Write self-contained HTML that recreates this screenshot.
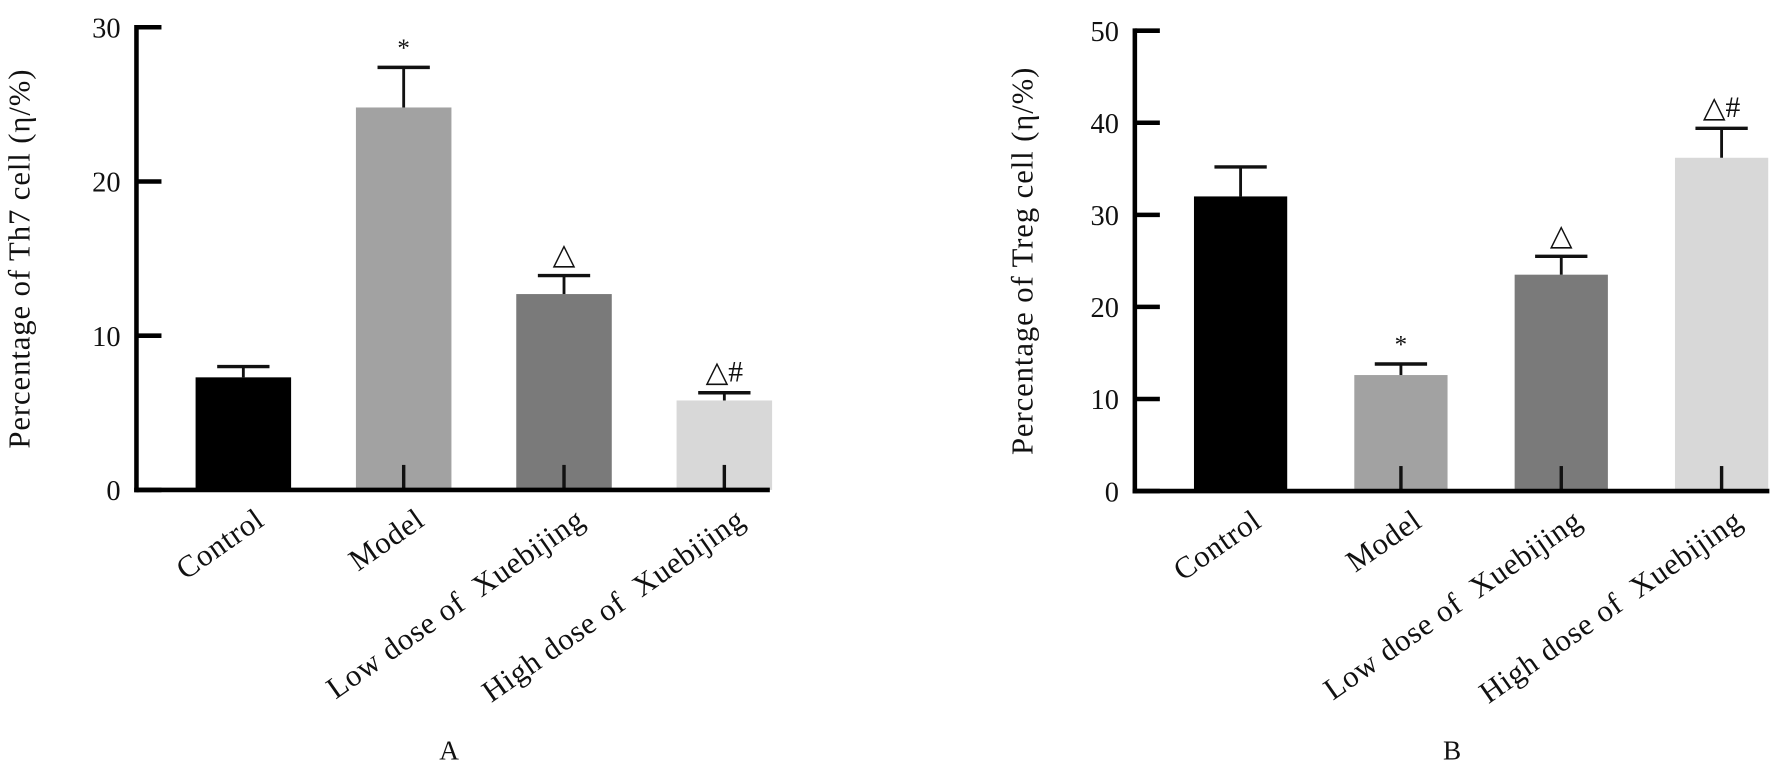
<!DOCTYPE html>
<html><head><meta charset="utf-8"><style>
html,body{margin:0;padding:0;background:#fff;width:1783px;height:765px;overflow:hidden}
svg{display:block}
text{font-family:"Liberation Serif","DejaVu Serif",serif;fill:#111;white-space:pre}
</style></head><body>
<svg id="chart" width="1783" height="765" viewBox="0 0 1568 673" preserveAspectRatio="none" xmlns="http://www.w3.org/2000/svg"></svg>
<script>
const categories = ["Control","Model","Low dose of  Xuebijing","High dose of  Xuebijing"];
const th7Values = [7.3, 24.8, 12.7, 5.8];
const th7Errors = [0.7, 2.6, 1.2, 0.5];
const th7Marks = ["", "*", "△", "△#"];
const th7Ticks = [0, 10, 20, 30];
const tregValues = [32.0, 12.6, 23.5, 36.2];
const tregErrors = [3.2, 1.2, 2.0, 3.2];
const tregMarks = ["", "*", "△", "△#"];
const tregTicks = [0, 10, 20, 30, 40, 50];
const barColors = ["#000000", "#a2a2a2", "#7a7a7a", "#d8d8d8"];

const NS = "http://www.w3.org/2000/svg";
const svg = document.getElementById('chart');
function mk(tag, attrs, parent){
  const e = document.createElementNS(NS, tag);
  for (const k in attrs) e.setAttribute(k, attrs[k]);
  (parent || svg).appendChild(e);
  return e;
}

function drawPanel(cfg){
  const g = mk('g', {});
  
  
  const y = v => cfg.y0 - (v / cfg.max) * (cfg.y0 - cfg.yTop);
  const bw = cfg.bw;
  const cx = i => cfg.x0 + cfg.firstOffset + i * cfg.step;

  cfg.values.forEach((v, i) => {
    const r = mk('rect', {x: cx(i) - bw/2, y: y(v), width: bw, height: cfg.y0 - y(v), fill: barColors[i]}, g);
    
    
    const top = y(v + cfg.errors[i]);
    const eb = mk('g', {}, g);
    
    
    mk('line', {x1: cx(i), x2: cx(i), y1: y(v), y2: top, stroke: '#111', 'stroke-width': 2.5}, eb);
    mk('line', {x1: cx(i) - 23, x2: cx(i) + 23, y1: top, y2: top, stroke: '#111', 'stroke-width': 3}, eb);
    if (cfg.marks[i]) {
      const t = mk('text', {x: cx(i), y: top - 10, 'text-anchor': 'middle', 'font-size': cfg.marks[i] === '*' ? 22 : 26}, g);
      t.textContent = cfg.marks[i];
      
      
    }
    if (i > 0) {
      const tk = mk('line', {x1: cx(i), x2: cx(i), y1: cfg.y0, y2: cfg.y0 - 22, stroke: '#111', 'stroke-width': 3}, g);
      
      
    }
    const lx = cx(i) + 20, ly = cfg.y0 + 30;
    const lab = mk('text', {x: lx, y: ly, 'text-anchor': 'end', 'font-size': 27, 'letter-spacing': 0.6, transform: `rotate(-35 ${lx} ${ly})`}, g);
    lab.textContent = categories[i];
    
    
  });

  const ya = mk('line', {x1: cfg.x0, x2: cfg.x0, y1: cfg.yTop - 2, y2: cfg.y0 + 2, stroke: '#000', 'stroke-width': 4}, g);
  
  
  const xa = mk('line', {x1: cfg.x0 - 2, x2: cfg.xEnd, y1: cfg.y0, y2: cfg.y0, stroke: '#000', 'stroke-width': 4}, g);
  
  
  cfg.ticks.forEach(t => {
    const tl = mk('line', {x1: cfg.x0, x2: cfg.x0 + 22, y1: y(t), y2: y(t), stroke: '#000', 'stroke-width': 4}, g);
    
    
    const tt = mk('text', {x: cfg.x0 - 14, y: y(t) + 9, 'text-anchor': 'end', 'font-size': 25, fill: '#333'}, g);
    tt.textContent = t;
    
    
  });
  const tx = cfg.titleX, ty = (cfg.yTop + cfg.y0) / 2;
  const title = mk('text', {x: tx, y: ty, 'text-anchor': 'middle', 'font-size': 27, 'letter-spacing': 0.8, transform: `rotate(-90 ${tx} ${ty})`}, g);
  title.textContent = cfg.title;
  
  
  const pl = mk('text', {x: cfg.panelX, y: 668, 'text-anchor': 'middle', 'font-size': 24}, g);
  pl.textContent = cfg.panel;
  
  
}

drawPanel({name:'panel-a-th7', x0:120, xEnd:677, y0:431, yTop:24, max:30, values:th7Values, errors:th7Errors, marks:th7Marks, ticks:th7Ticks,
  firstOffset:94, step:141, bw:84, title:'Percentage of Th7 cell (η/%)', titleX:26, panel:'A', panelX:395});
drawPanel({name:'panel-b-treg', x0:998, xEnd:1556, y0:432, yTop:27, max:50, values:tregValues, errors:tregErrors, marks:tregMarks, ticks:tregTicks,
  firstOffset:93, step:141, bw:82, title:'Percentage of Treg cell (η/%)', titleX:908, panel:'B', panelX:1277});
</script>
</body></html>
